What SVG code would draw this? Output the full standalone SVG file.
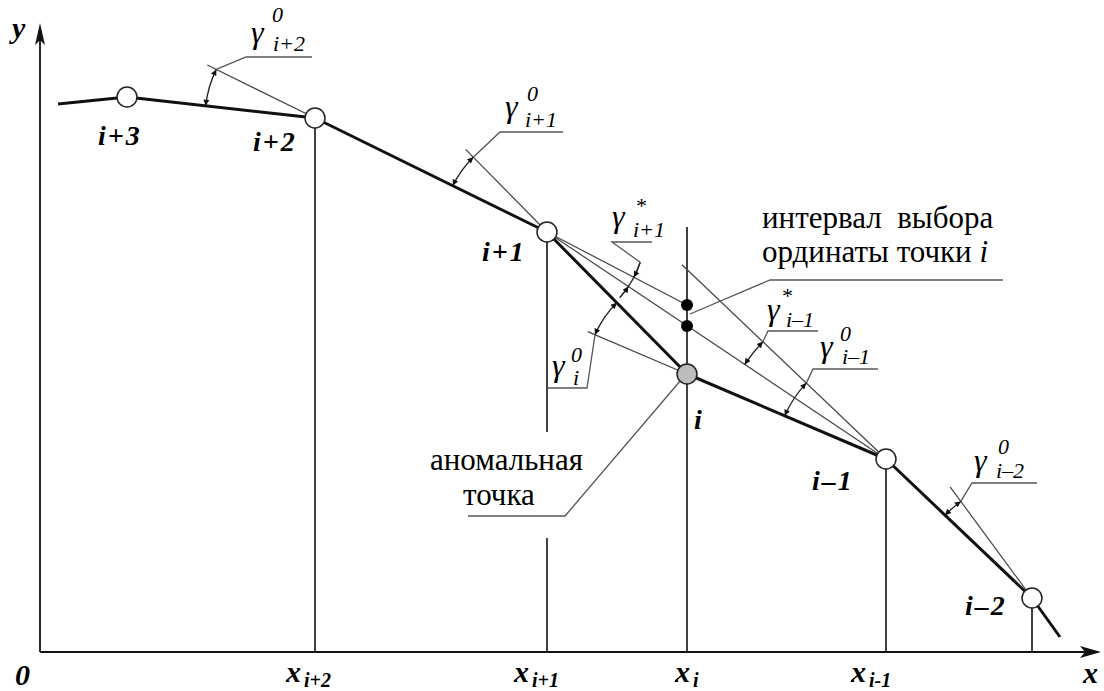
<svg xmlns="http://www.w3.org/2000/svg" width="1104" height="691" viewBox="0 0 1104 691">
<style>
.thick{stroke:#111;stroke-width:3;fill:none;stroke-linejoin:round}
.axis{stroke:#111;stroke-width:1.8;fill:none}
.vert{stroke:#111;stroke-width:1.6;fill:none}
.thin{stroke:#444;stroke-width:1.2;fill:none}
.lead{stroke:#555;stroke-width:1.3;fill:none}
.arc{stroke:#222;stroke-width:1.3;fill:none;marker-start:url(#ah);marker-end:url(#ah)}
.arc1{stroke:#222;stroke-width:1.3;fill:none;marker-end:url(#ah)}
.arc0{stroke:#222;stroke-width:1.3;fill:none}
.node{fill:#fff;stroke:#222;stroke-width:1.5}
.lbl{font-weight:bold;font-style:italic;font-size:28px;letter-spacing:2px}
.ax{font-weight:bold;font-style:italic;font-size:30px}
.axs{font-weight:bold;font-style:italic;font-size:20px}
.g{font-style:italic;font-size:32px}
.gs{font-style:italic;font-size:22px}
.t{font-size:31px;white-space:pre}
</style>
<defs>
<marker id="ah" viewBox="0 0 10 10" refX="10" refY="5" markerWidth="9" markerHeight="6" markerUnits="userSpaceOnUse" orient="auto-start-reverse"><path d="M0,0 L10,5 L0,10 z" fill="#111"/></marker>
</defs>
<g font-family="Liberation Serif, Tinos, Times New Roman, DejaVu Serif, Noto Serif, serif" fill="#000">

<g id="axes">
<line class="axis" x1="40" y1="652" x2="40" y2="30"/>
<path d="M40,23 L35,45 L40,40 L45,45 Z" fill="#111"/>
<line class="axis" x1="40" y1="652" x2="1094" y2="652"/>
<path d="M1101,652 L1080,646 L1085,652 L1080,658 Z" fill="#111"/>
<text class="ax" x="12" y="38">y</text>
<text class="ax" x="15" y="685">0</text>
<text class="ax" x="1083" y="683">x</text>
<text class="ax" x="286" y="682">x</text><text class="axs" x="304" y="687">i+2</text>
<text class="ax" x="514" y="682">x</text><text class="axs" x="532" y="687">i+1</text>
<text class="ax" x="675" y="682">x</text><text class="axs" x="693" y="687">i</text>
<text class="ax" x="851" y="682">x</text><text class="axs" x="869" y="687">i-1</text>
</g>

<g id="connectors">
<polyline class="thick" points="58,104 127,97 315,118 547,232 687,374 886,459 1032,598 1060,637"/>
<line class="vert" x1="315" y1="128" x2="315" y2="652"/>
<line class="vert" x1="547" y1="242" x2="547" y2="432"/>
<line class="vert" x1="547" y1="538" x2="547" y2="652"/>
<line class="vert" x1="687" y1="227" x2="687" y2="652"/>
<line class="vert" x1="886" y1="469" x2="886" y2="652"/>
<line class="vert" x1="1032" y1="608" x2="1032" y2="652"/>
<line class="thin" x1="315" y1="118" x2="207.3" y2="65"/>
<line class="thin" x1="547" y1="232" x2="465.6" y2="149.4"/>
<line class="thin" x1="687" y1="374" x2="587.7" y2="331.6"/>
<line class="thin" x1="547" y1="232" x2="687" y2="305"/>
<line class="thin" x1="547" y1="232" x2="886" y2="459"/>
<line class="thin" x1="886" y1="459" x2="682" y2="264.7"/>
<line class="thin" x1="1032" y1="598" x2="950.1" y2="486.9"/>
</g>

<g id="angles">
<path class="arc" d="M205.7,105.7 A110,110 0 0 1 216.3,69.4"/>
<path class="arc" d="M452.8,185.6 A105,105 0 0 1 473.3,157.2"/>
<path class="arc" d="M595,334.8 A100,100 0 0 1 616.8,302.8"/>
<path class="arc0" d="M640.2,262.3 A98,98 0 0 1 619.8,297.6"/>
<path class="arc1" d="M640.2,262.3 A98,98 0 0 1 633.9,277.3"/>
<path class="arc1" d="M619.8,297.6 A98,98 0 0 0 628.4,286.5"/>
<path class="arc" d="M744.7,364.4 A170,170 0 0 1 762.9,341.8"/>
<path class="arc" d="M784.8,415.8 A110,110 0 0 1 806.3,383.1"/>
<path class="arc" d="M945.1,515.2 A120,120 0 0 1 960.8,501.4"/>
</g>

<g id="leaders">
<polyline class="lead" points="312,57 246,57 216.3,69.4"/>
<polyline class="lead" points="563,132 500,132 473.3,157.2"/>
<polyline class="lead" points="652,242 612,242 640.2,262.3"/>
<polyline class="lead" points="547,388 587,388 595,334.8"/>
<polyline class="lead" points="818,331 768,331 762.9,341.8"/>
<polyline class="lead" points="878,369 813,369 806.3,383.1"/>
<polyline class="lead" points="1037,483 972,483 960.8,501.4"/>
<polyline class="lead" points="1003,280 770,280 690,314"/>
<polyline class="lead" points="468,516 565,516 681,380"/>
</g>

<g id="node-i3"><circle class="node" cx="127" cy="97" r="10"/><text class="lbl" x="98" y="145">i+3</text></g>
<g id="node-i2"><circle class="node" cx="315" cy="118" r="10"/><text class="lbl" x="253" y="151">i+2</text></g>
<g id="node-i1"><circle class="node" cx="547" cy="232" r="10"/><text class="lbl" x="482" y="261">i+1</text></g>
<g id="node-i"><circle cx="687" cy="374" r="10" fill="#bdbdbd" stroke="#222" stroke-width="1.5"/><text class="lbl" x="694" y="429">i</text></g>
<g id="node-im1"><circle class="node" cx="886" cy="459" r="10"/><text class="lbl" x="812" y="490">i–1</text></g>
<g id="node-im2"><circle class="node" cx="1032" cy="598" r="10"/><text class="lbl" x="965" y="615">i–2</text></g>
<g id="dot-upper"><circle cx="687" cy="305" r="6" fill="#000"/></g>
<g id="dot-lower"><circle cx="687" cy="326" r="6" fill="#000"/></g>

<g id="label-g0-i2"><text class="g" x="251" y="43">γ</text><text class="gs" x="272" y="22">0</text><text class="gs" x="273" y="51">i+2</text></g>
<g id="label-g0-i1"><text class="g" x="505" y="117">γ</text><text class="gs" x="527" y="101">0</text><text class="gs" x="525" y="127">i+1</text></g>
<g id="label-gs-i1"><text class="g" x="612" y="227">γ</text><text class="gs" x="635" y="213">*</text><text class="gs" x="633" y="237">i+1</text></g>
<g id="label-g0-i"><text class="g" x="552" y="376">γ</text><text class="gs" x="571" y="362">0</text><text class="gs" x="573" y="385">i</text></g>
<g id="label-gs-im1"><text class="g" x="767" y="320">γ</text><text class="gs" x="781" y="303">*</text><text class="gs" x="786" y="327">i–1</text></g>
<g id="label-g0-im1"><text class="g" x="820" y="357">γ</text><text class="gs" x="840" y="341">0</text><text class="gs" x="842" y="364">i–1</text></g>
<g id="label-g0-im2"><text class="g" x="974" y="471">γ</text><text class="gs" x="998" y="454">0</text><text class="gs" x="996" y="478">i–2</text></g>

<g id="label-interval">
<text class="t" x="762" y="228">интервал  выбора</text>
<text class="t" x="762" y="262">ординаты точки <tspan font-style="italic">i</tspan></text>
</g>
<g id="label-anomaly">
<text class="t" x="430" y="470">аномальная</text>
<text class="t" x="463" y="505">точка</text>
</g>
</g>
</svg>
